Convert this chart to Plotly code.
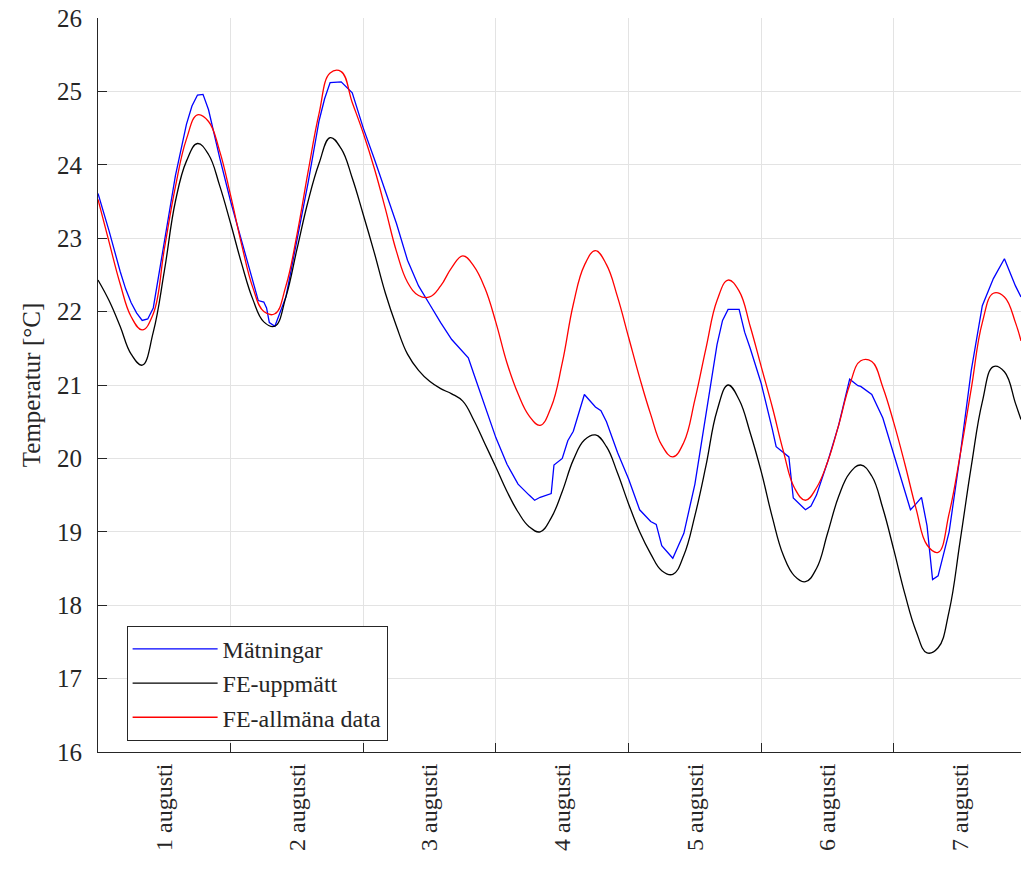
import plotly.graph_objects as go

# Hours since 1 August 00:00
hours_fe = list(range(0, 168, 2)) + [167]

fe_uppmatt = [
    22.43, 22.15, 21.8, 21.42, 21.27, 21.72, 22.55, 23.5, 24.05, 24.29,
    24.14, 23.72, 23.2, 22.65, 22.17, 21.86, 21.8, 22.2, 22.85, 23.5,
    24.02, 24.37, 24.22, 23.82, 23.32, 22.8, 22.25, 21.8, 21.42, 21.2,
    21.05, 20.95, 20.88, 20.78, 20.52, 20.2, 19.88, 19.55, 19.27, 19.07,
    19.0, 19.19, 19.55, 19.98, 20.25, 20.32, 20.16, 19.8, 19.38, 19.0,
    18.7, 18.47, 18.42, 18.68, 19.22, 19.9, 20.65, 21.0, 20.8, 20.35,
    19.82, 19.2, 18.68, 18.4, 18.32, 18.5, 18.98, 19.48, 19.8, 19.91,
    19.76, 19.32, 18.75, 18.15, 17.65, 17.35, 17.42, 17.92, 18.88, 19.89,
    20.77, 21.25, 21.18, 20.75, 20.53,
]

fe_allmana = [
    23.53, 22.95, 22.38, 21.93, 21.75, 21.97, 22.85, 23.7, 24.35, 24.68,
    24.59, 24.19, 23.58, 22.91, 22.33, 22.0, 21.97, 22.35, 23.05, 23.9,
    24.7, 25.25, 25.27, 24.85, 24.43, 23.95, 23.4, 22.82, 22.4, 22.22,
    22.2, 22.35, 22.6, 22.76, 22.62, 22.32, 21.85, 21.3, 20.88, 20.58,
    20.45, 20.7, 21.3, 22.1, 22.63, 22.83, 22.64, 22.2, 21.65, 21.1,
    20.6, 20.18, 20.02, 20.22, 20.8, 21.5, 22.15, 22.43, 22.28, 21.8,
    21.25, 20.7, 20.1, 19.6, 19.43, 19.6, 19.95, 20.45, 21.0, 21.33,
    21.32, 20.97, 20.48, 19.92, 19.32, 18.82, 18.72, 19.25, 20.05, 20.95,
    21.85, 22.25, 22.2, 21.85, 21.6,
]

hours_m = [
    0, 2, 4, 5, 6, 7, 8, 9, 10, 12, 14, 16, 17, 18, 19, 20, 22, 24, 26, 28,
    29, 30, 30.5, 31, 32, 34, 36, 38, 40, 41, 42, 44, 46, 48, 50, 52, 54, 56, 58, 60,
    62, 64, 66, 67, 68, 70, 72, 74, 76, 78, 79, 80, 82, 82.5, 84, 85, 86, 88, 89.3, 90,
    91, 92, 94, 96, 98, 100, 101, 102, 104, 106, 108, 110, 112, 113, 114, 116, 117, 118, 120, 122,
    122.7, 124, 125, 125.8, 128, 129, 130, 132, 134, 136, 137.5, 138, 140, 142, 144, 146, 147, 148, 149, 150,
    151, 152, 154, 156, 158, 160, 162, 164, 166, 167,
]
matningar = [
    23.61, 23.1, 22.55, 22.31, 22.12, 21.98, 21.88, 21.9, 22.05, 22.97, 23.85, 24.55, 24.8, 24.95, 24.96, 24.75, 24.1, 23.5, 22.95, 22.4,
    22.15, 22.13, 22.05, 21.85, 21.8, 22.2, 22.95, 23.75, 24.6, 24.9, 25.12, 25.13, 24.98, 24.5, 24.08, 23.65, 23.2, 22.7, 22.35, 22.1,
    21.85, 21.62, 21.45, 21.37, 21.15, 20.7, 20.28, 19.92, 19.65, 19.5, 19.43, 19.47, 19.52, 19.91, 20.0, 20.24, 20.37, 20.87, 20.75, 20.7,
    20.65, 20.5, 20.08, 19.72, 19.3, 19.14, 19.1, 18.81, 18.64, 18.98, 19.65, 20.6, 21.55, 21.88, 22.03, 22.03, 21.72, 21.5, 21.02, 20.4,
    20.16, 20.08, 20.02, 19.46, 19.3, 19.35, 19.5, 19.95, 20.45, 21.08, 20.99, 20.98, 20.87, 20.55, 20.05, 19.55, 19.3, 19.38, 19.47, 19.08,
    18.35, 18.4, 19.0, 20.05, 21.2, 22.08, 22.45, 22.72, 22.35, 22.2,
]

day_bounds = [24, 48, 72, 96, 120, 144]
label_pos = [12, 36, 60, 84, 108, 132, 156]
day_labels = ["1 augusti", "2 augusti", "3 augusti", "4 augusti",
              "5 augusti", "6 augusti", "7 augusti"]
y_ticks = [16, 17, 18, 19, 20, 21, 22, 23, 24, 25, 26]

FONT = "Liberation Serif"
AXC = "#262626"
GRID = "#e3e3e3"

fig = go.Figure()
fig.add_trace(go.Scatter(x=hours_m, y=matningar, mode="lines", name="Mätningar",
                         line=dict(color="#0000ff", width=1.3)))
fig.add_trace(go.Scatter(x=hours_fe, y=fe_uppmatt, mode="lines", name="FE-uppmätt",
                         line=dict(color="#000000", width=1.3, shape="spline", smoothing=1.2)))
fig.add_trace(go.Scatter(x=hours_fe, y=fe_allmana, mode="lines", name="FE-allmäna data",
                         line=dict(color="#ff0000", width=1.3, shape="spline", smoothing=1.2)))

fig.update_layout(
    width=1021, height=882,
    margin=dict(l=98, r=0, t=18, b=130, pad=0),
    paper_bgcolor="white", plot_bgcolor="white",
    font=dict(family=FONT, size=24, color=AXC),
    xaxis=dict(
        range=[0, 167], tickmode="array", tickvals=label_pos, ticktext=day_labels,
        tickangle=-90, ticks="", showgrid=False, zeroline=False,
        showline=True, linecolor=AXC, linewidth=1,
        tickfont=dict(family=FONT, size=24, color=AXC), ticklabelstandoff=1,
        minor=dict(tickmode="array", tickvals=day_bounds, showgrid=True,
                   gridcolor=GRID, gridwidth=1, ticks="inside", ticklen=9,
                   tickcolor=AXC, tickwidth=1),
    ),
    yaxis=dict(
        range=[16, 26], tickmode="array", tickvals=y_ticks, ticks="inside", ticklen=9,
        tickcolor=AXC, showgrid=True, gridcolor=GRID, gridwidth=1, zeroline=False,
        showline=True, linecolor=AXC, linewidth=1,
        tickfont=dict(family=FONT, size=25, color=AXC), ticklabelstandoff=10,
        title=dict(text="Temperatur [°C]", font=dict(family=FONT, size=25, color=AXC), standoff=9),
    ),
    legend=dict(
        x=0.031, y=0.172, xanchor="left", yanchor="top",
        bgcolor="white", bordercolor=AXC, borderwidth=1,
        font=dict(family=FONT, size=24, color=AXC),
        itemwidth=85, tracegroupgap=0,
    ),
    showlegend=True,
)

fig.write_html("out.html")
